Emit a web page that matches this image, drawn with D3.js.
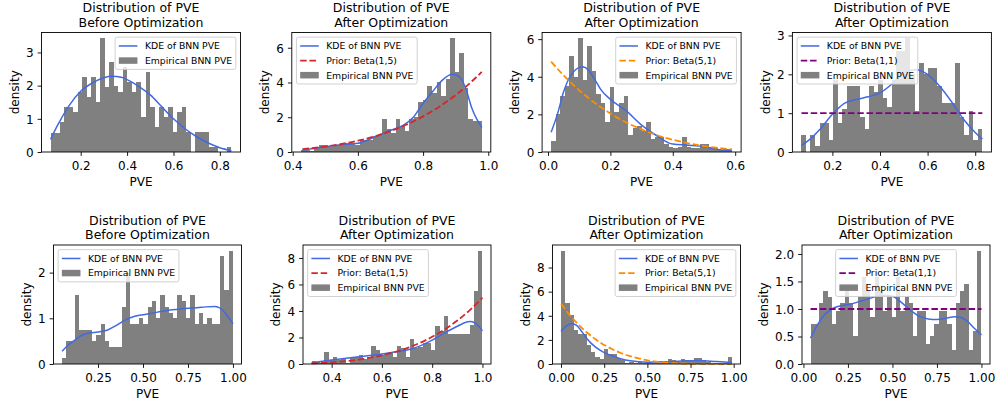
<!DOCTYPE html>
<html><head><meta charset="utf-8">
<script src="https://cdn.jsdelivr.net/npm/d3@7"></script>
<style>
body{margin:0;background:#fff;}
svg{display:block;font-family:"DejaVu Sans",sans-serif;}
</style></head><body>
<svg id="c" width="995" height="405"></svg>
<script>
// ---------------- DATA ----------------
// Panel 1: before optimization (top)
const range1 = [0.07, 0.85];
const hist1 = [0.57,0.57,0.9,1.35,1.35,1.2,1.8,2.25,1.65,2.25,1.5,3.43,1.95,2.7,2.0,1.8,2.55,2.1,1.8,2.1,1.05,2.4,1.35,0.75,1.35,1.05,1.35,0.6,1.2,1.35,0.6,0.0,0.6,0.6,0.6,0.15,0.15,0.0,0.0,0.15];
const kde1x = [0.07,0.1,0.15,0.2,0.25,0.3,0.335,0.375,0.4,0.45,0.5,0.55,0.6,0.65,0.7,0.75,0.8,0.85];
const kde1y = [0.38,0.8,1.4,1.83,2.08,2.24,2.28,2.25,2.18,1.98,1.72,1.36,1.0,0.7,0.46,0.27,0.13,0.04];
const xt1 = [0.2,0.4,0.6,0.8], xl1 = ["0.2","0.4","0.6","0.8"];
const yt1 = [0,1,2,3], yl1 = ["0","1","2","3"];

// Panel 2: after, Beta(1,5) prior (top)
const range2 = [0.425, 0.98];
const hist2 = [0.1,0.1,0.05,0.3,0.4,0.4,0.3,0.4,0.4,0.4,0.5,0.5,0.4,0.7,0.7,0.7,0.9,1.0,1.9,1.3,1.1,1.9,1.5,1.2,1.9,2.0,2.9,3.0,3.8,3.4,4.0,3.2,4.2,6.55,4.6,5.7,3.7,1.9,1.8,1.8];
const kde2x = [0.43,0.5,0.55,0.6,0.65,0.7,0.74,0.77,0.8,0.83,0.86,0.89,0.91,0.93,0.95,0.98];
const kde2y = [0.1,0.3,0.42,0.5,0.85,1.25,1.55,2.0,2.8,3.5,4.15,4.47,4.35,3.7,2.5,1.4];
const prior2x = [0.43,0.5,0.55,0.6,0.65,0.7,0.75,0.8,0.85,0.9,0.95,0.98];
const prior2y = [0.17,0.31,0.46,0.65,0.89,1.2,1.58,2.05,2.61,3.28,4.07,4.61];
const xt2 = [0.4,0.6,0.8,1.0], xl2 = ["0.4","0.6","0.8","1.0"];
const yt2 = [0,2,4,6], yl2 = ["0","2","4","6"];

// Panel 3: after, Beta(5,1) prior (top)
const range3 = [0.01, 0.59];
const hist3 = [0.6,2.0,3.0,3.5,5.1,4.0,6.05,3.85,5.65,4.3,3.1,2.6,1.6,3.45,2.1,2.6,3.0,0.9,1.3,1.4,1.1,1.6,0.7,0.8,0.8,0.45,0.25,0.2,0.25,0.8,0.25,0.2,0.2,0.4,0.4,0.25,0.2,0.1,0.15,0.15];
const kde3x = [0.01,0.03,0.05,0.07,0.09,0.11,0.13,0.15,0.17,0.2,0.25,0.3,0.35,0.4,0.45,0.5,0.55,0.59];
const kde3y = [1.05,2.0,3.2,4.0,4.4,4.53,4.35,3.85,3.3,2.8,2.2,1.43,0.85,0.42,0.36,0.28,0.12,0.07];
const prior3x = [0.01,0.05,0.1,0.15,0.2,0.25,0.3,0.35,0.4,0.45,0.5,0.55,0.59];
const prior3y = [4.8,4.07,3.28,2.61,2.05,1.58,1.2,0.89,0.65,0.46,0.31,0.21,0.14];
const xt3 = [0.0,0.2,0.4,0.6], xl3 = ["0.0","0.2","0.4","0.6"];
const yt3 = [0,2,4,6], yl3 = ["0","2","4","6"];

// Panel 4: after, Beta(1,1) prior (top)
const range4 = [0.07, 0.83];
const hist4 = [0.45,0,0.45,0.15,0.75,0.75,0.3,1.85,0.75,1.1,1.7,1.7,1.7,0.9,0.6,1.7,1.55,1.85,1.4,1.15,1.85,2.6,2.6,2.93,2.0,1.05,2.3,2.0,2.15,2.15,1.7,1.25,1.25,1.25,2.3,0.9,0.45,1.05,0.3,0.6];
const kde4x = [0.07,0.1,0.15,0.2,0.25,0.3,0.35,0.4,0.45,0.5,0.55,0.6,0.65,0.7,0.75,0.8,0.83];
const kde4y = [0.17,0.3,0.6,0.97,1.25,1.35,1.42,1.52,1.75,2.05,2.12,2.0,1.7,1.3,0.85,0.5,0.33];
const prior4x = [0.07,0.83];
const prior4y = [1.0,1.0];
const xt4 = [0.2,0.4,0.6,0.8], xl4 = ["0.2","0.4","0.6","0.8"];
const yt4 = [0,1,2,3], yl4 = ["0","1","2","3"];

// Panel 5: before optimization (bottom)
const range5 = [0.05, 1.0];
const hist5 = [0.13,0.5,0.5,1.5,0.75,0.75,0.75,0.5,0.63,0.88,0.5,0.38,0.38,0.38,1.25,2.0,0.88,0.88,1.0,0.88,1.25,1.37,1.0,1.5,1.25,1.12,1.0,1.5,1.37,1.0,1.5,0.88,1.12,0.88,1.0,0.88,0.88,2.37,1.62,2.48];
const kde5x = [0.05,0.08,0.12,0.16,0.2,0.25,0.3,0.35,0.4,0.45,0.5,0.55,0.6,0.65,0.7,0.75,0.8,0.85,0.9,0.93,0.96,1.0];
const kde5y = [0.28,0.4,0.52,0.63,0.68,0.7,0.74,0.84,0.96,1.04,1.08,1.11,1.15,1.18,1.2,1.22,1.23,1.25,1.26,1.22,1.1,0.88];
const xt5 = [0.25,0.5,0.75,1.0], xl5 = ["0.25","0.50","0.75","1.00"];
const yt5 = [0,1,2], yl5 = ["0","1","2"];

// Panel 6: after, Beta(1,5) prior (bottom)
const range6 = [0.32, 1.0];
const hist6 = [0.2,0.15,0.1,0.9,0.3,0.5,0.3,0.4,0.1,0.5,0.5,0.65,0.4,0.55,1.35,1.05,0.65,0.85,0.9,0.55,1.35,1.2,0.55,1.9,1.2,1.3,1.6,1.55,1.05,2.9,2.5,3.6,2.3,2.3,2.3,2.3,2.3,2.95,5.5,8.55];
const kde6x = [0.32,0.4,0.5,0.6,0.65,0.7,0.75,0.8,0.85,0.9,0.95,0.97,1.0];
const kde6y = [0.1,0.3,0.52,0.75,0.9,1.05,1.35,1.8,2.35,2.85,3.2,3.1,2.5];
const prior6x = [0.32,0.4,0.5,0.6,0.7,0.8,0.85,0.9,0.95,1.0];
const prior6y = [0.05,0.13,0.31,0.65,1.2,2.05,2.61,3.28,4.07,5.0];
const xt6 = [0.4,0.6,0.8,1.0], xl6 = ["0.4","0.6","0.8","1.0"];
const yt6 = [0,2,4,6,8], yl6 = ["0","2","4","6","8"];

// Panel 7: after, Beta(5,1) prior (bottom)
const range7 = [0.0, 0.99];
const hist7 = [9.4,5.1,4.05,2.8,2.5,2.45,1.6,1.0,0.55,0.4,1.25,0.85,0.85,0.5,0.3,0.1,0.2,0.1,0.2,0.1,0.15,0.1,0.05,0.1,0.1,0.4,0.3,0.2,0.4,0.3,0.3,0.5,0.5,0.3,0.2,0.1,0.1,0.1,0.05,0.55];
const kde7x = [0,0.03,0.06,0.09,0.12,0.15,0.2,0.25,0.3,0.35,0.4,0.5,0.6,0.7,0.8,0.9,0.99];
const kde7y = [2.7,3.15,3.35,3.2,2.7,2.1,1.4,0.95,0.65,0.42,0.27,0.15,0.18,0.25,0.28,0.2,0.12];
const prior7x = [0,0.05,0.1,0.15,0.2,0.25,0.3,0.35,0.4,0.5,0.6,0.7,0.8,0.99];
const prior7y = [5.0,4.07,3.28,2.61,2.05,1.58,1.2,0.89,0.65,0.31,0.13,0.04,0.01,0.0];
const xt7 = [0,0.25,0.5,0.75,1.0], xl7 = ["0.00","0.25","0.50","0.75","1.00"];
const yt7 = [0,2,4,6,8], yl7 = ["0","2","4","6","8"];

// Panel 8: after, Beta(1,1) prior (bottom)
const range8 = [0.04, 1.0];
const hist8 = [0.73,0.73,1.1,1.33,1.22,0.73,0.97,1.1,1.33,1.1,0.5,1.22,1.58,1.33,0.85,1.58,1.33,0.97,1.22,0.85,1.58,0.97,1.22,1.1,0.5,0.97,0.97,0.36,0.5,0.73,0.97,0.97,0.73,0.26,1.1,1.33,1.45,0.26,0.6,2.06];
const kde8x = [0.04,0.08,0.12,0.16,0.2,0.25,0.3,0.35,0.4,0.45,0.5,0.55,0.6,0.65,0.7,0.75,0.8,0.85,0.88,0.92,0.96,1.0];
const kde8y = [0.47,0.72,0.9,1.0,1.05,1.08,1.12,1.17,1.22,1.25,1.23,1.12,0.98,0.87,0.82,0.81,0.83,0.86,0.85,0.78,0.65,0.53];
const prior8x = [0.04,1.0];
const prior8y = [1.0,1.0];
const xt8 = [0,0.25,0.5,0.75,1.0], xl8 = ["0.00","0.25","0.50","0.75","1.00"];
const yt8 = [0,0.5,1,1.5,2], yl8 = ["0.0","0.5","1.0","1.5","2.0"];

// Text
const titleLine1 = "Distribution of PVE";
const titleBefore = "Before Optimization", titleAfter = "After Optimization";
const labelKDE = "KDE of BNN PVE", labelHist = "Empirical BNN PVE";
const labelP15 = "Prior: Beta(1,5)", labelP51 = "Prior: Beta(5,1)", labelP11 = "Prior: Beta(1,1)";

// ---------------- STYLE / LAYOUT ----------------
const C_BAR = "#808080", C_KDE = "#4169e1", C_RED = "#d62728", C_ORANGE = "#ff8c00", C_PURPLE = "#800080";
const ROWS = [
  {top: 32.5, h: 119.5, left0: 41.5, step: 250.3, w: 199},
  {top: 245,  h: 119,   left0: 53.5, step: 249.5, w: 188}
];
const FS_TICK = 12, FS_LABEL = 12, FS_TITLE = 12.5, FS_LEG = 9.3;

const panels = [
  {row:0,col:0,hist:hist1,range:range1,kx:kde1x,ky:kde1y,px:null,py:null,pc:null,pl:null,t2:titleBefore,xt:xt1,xl:xl1,yt:yt1,yl:yl1,loc:"ur"},
  {row:0,col:1,hist:hist2,range:range2,kx:kde2x,ky:kde2y,px:prior2x,py:prior2y,pc:C_RED,pl:labelP15,t2:titleAfter,xt:xt2,xl:xl2,yt:yt2,yl:yl2,loc:"ul"},
  {row:0,col:2,hist:hist3,range:range3,kx:kde3x,ky:kde3y,px:prior3x,py:prior3y,pc:C_ORANGE,pl:labelP51,t2:titleAfter,xt:xt3,xl:xl3,yt:yt3,yl:yl3,loc:"ur"},
  {row:0,col:3,hist:hist4,range:range4,kx:kde4x,ky:kde4y,px:prior4x,py:prior4y,pc:C_PURPLE,pl:labelP11,t2:titleAfter,xt:xt4,xl:xl4,yt:yt4,yl:yl4,loc:"ul"},
  {row:1,col:0,hist:hist5,range:range5,kx:kde5x,ky:kde5y,px:null,py:null,pc:null,pl:null,t2:titleBefore,xt:xt5,xl:xl5,yt:yt5,yl:yl5,loc:"ul"},
  {row:1,col:1,hist:hist6,range:range6,kx:kde6x,ky:kde6y,px:prior6x,py:prior6y,pc:C_RED,pl:labelP15,t2:titleAfter,xt:xt6,xl:xl6,yt:yt6,yl:yl6,loc:"ul"},
  {row:1,col:2,hist:hist7,range:range7,kx:kde7x,ky:kde7y,px:prior7x,py:prior7y,pc:C_ORANGE,pl:labelP51,t2:titleAfter,xt:xt7,xl:xl7,yt:yt7,yl:yl7,loc:"ur"},
  {row:1,col:3,hist:hist8,range:range8,kx:kde8x,ky:kde8y,px:prior8x,py:prior8y,pc:C_PURPLE,pl:labelP11,t2:titleAfter,xt:xt8,xl:xl8,yt:yt8,yl:yl8,loc:"uc"}
];

const svg = d3.select("#c");
const FONT = "DejaVu Sans";

function drawPanel(p){
  const L = ROWS[p.row];
  const left = L.left0 + L.step*p.col, top = L.top, w = L.w, h = L.h;
  const [lo, hi] = p.range, m = 0.05*(hi-lo);
  const x = d3.scaleLinear().domain([lo-m, hi+m]).range([left, left+w]);
  const ymax = 1.05*d3.max([d3.max(p.hist), d3.max(p.ky), p.py ? d3.max(p.py) : 0]);
  const y = d3.scaleLinear().domain([0, ymax]).range([top+h, top]);
  const g = svg.append("g");

  // histogram
  const n = p.hist.length, bw = (hi-lo)/n;
  const bins = p.hist.map((v,i)=>({x0: lo+i*bw, x1: lo+(i+1)*bw, v}));
  g.append("g").selectAll("rect").data(bins).join("rect")
    .attr("x", d=>x(d.x0)).attr("width", d=>x(d.x1)-x(d.x0))
    .attr("y", d=>y(d.v)).attr("height", d=>y(0)-y(d.v))
    .attr("fill", C_BAR).attr("shape-rendering","crispEdges");

  // KDE
  const line = d3.line().x(d=>x(d[0])).y(d=>y(d[1])).curve(d3.curveMonotoneX);
  g.append("path").datum(p.kx.map((v,i)=>[v,p.ky[i]]))
    .attr("d", line).attr("fill","none").attr("stroke",C_KDE).attr("stroke-width",1.5);
  // prior
  if (p.px){
    g.append("path").datum(p.px.map((v,i)=>[v,p.py[i]]))
      .attr("d", line).attr("fill","none").attr("stroke",p.pc).attr("stroke-width",1.8)
      .attr("stroke-dasharray","6.5,2.8");
  }

  // axes
  const xa = d3.axisBottom(x).tickValues(p.xt).tickFormat((d,i)=>p.xl[i]).tickSize(3.9).tickPadding(3.9).tickSizeOuter(0);
  const gx = g.append("g").attr("transform",`translate(0,${top+h})`).call(xa);
  gx.select(".domain").remove();
  gx.selectAll("line").attr("stroke","#000").attr("stroke-width",0.9);
  gx.selectAll("text").attr("font-size",FS_TICK).attr("font-family",FONT).attr("fill","#000").attr("dy","0.88em");

  const ya = d3.axisLeft(y).tickValues(p.yt).tickFormat((d,i)=>p.yl[i]).tickSize(3.9).tickPadding(3.9).tickSizeOuter(0);
  const gy = g.append("g").attr("transform",`translate(${left},0)`).call(ya);
  gy.select(".domain").remove();
  gy.selectAll("line").attr("stroke","#000").attr("stroke-width",0.9);
  gy.selectAll("text").attr("font-size",FS_TICK).attr("font-family",FONT).attr("fill","#000").attr("dy","0.36em");
  let maxW = 0;
  gy.selectAll("text").each(function(){ maxW = Math.max(maxW, this.getBBox().width); });

  // spines
  g.append("rect").attr("x",left).attr("y",top).attr("width",w).attr("height",h)
    .attr("fill","none").attr("stroke","#000").attr("stroke-width",0.9);

  // labels
  g.append("text").attr("x", left+w/2).attr("y", top+h+33.5).attr("text-anchor","middle")
    .attr("font-size",FS_LABEL).attr("font-family",FONT).text("PVE");
  const xb = left - 7.8 - maxW - 4.4 - 0.24*FS_LABEL;
  g.append("text").attr("transform",`translate(${xb},${top+h/2}) rotate(-90)`).attr("text-anchor","middle")
    .attr("font-size",FS_LABEL).attr("font-family",FONT).text("density");

  // title (two lines)
  g.append("text").attr("x",left+w/2).attr("y",top-20.5).attr("text-anchor","middle")
    .attr("font-size",FS_TITLE).attr("font-family",FONT).text(titleLine1);
  g.append("text").attr("x",left+w/2).attr("y",top-6).attr("text-anchor","middle")
    .attr("font-size",FS_TITLE).attr("font-family",FONT).text(p.t2);

  // legend
  const entries = [{type:"line",color:C_KDE,dash:null,label:labelKDE}];
  if (p.px) entries.push({type:"line",color:p.pc,dash:"6.5,2.8",label:p.pl});
  entries.push({type:"patch",color:C_BAR,label:labelHist});
  const fs = FS_LEG, pad = 0.4*fs, hl = 2*fs, htp = 0.8*fs, rowH = 10.2, gap = 4.4, bap = 0.5*fs;
  const lg = g.append("g");
  const box = lg.append("rect");
  const texts = entries.map(e => lg.append("text").attr("font-size",fs).attr("font-family",FONT).text(e.label));
  const tw = d3.max(texts, t => t.node().getComputedTextLength());
  const bwid = pad+hl+htp+tw+pad, bh = 2*pad + entries.length*rowH + (entries.length-1)*gap;
  let bx;
  if (p.loc==="ur") bx = left+w-bap-bwid; else if (p.loc==="ul") bx = left+bap; else bx = left+w/2-bwid/2;
  const by = top+bap;
  box.attr("x",bx).attr("y",by).attr("width",bwid).attr("height",bh).attr("rx",2)
    .attr("fill","#fff").attr("fill-opacity",0.8).attr("stroke","#cccccc").attr("stroke-width",0.9);
  entries.forEach((e,i)=>{
    const cy = by+pad+i*(rowH+gap)+rowH/2;
    texts[i].attr("x",bx+pad+hl+htp).attr("y",cy+0.36*fs);
    if (e.type==="line"){
      const l = lg.append("line").attr("x1",bx+pad).attr("x2",bx+pad+hl).attr("y1",cy).attr("y2",cy)
        .attr("stroke",e.color).attr("stroke-width",e.dash?1.8:1.5);
      if (e.dash) l.attr("stroke-dasharray",e.dash);
    } else {
      lg.append("rect").attr("x",bx+pad).attr("y",cy-0.35*fs).attr("width",hl).attr("height",0.7*fs).attr("fill",e.color);
    }
  });
}

panels.forEach(drawPanel);
</script>
</body></html>
